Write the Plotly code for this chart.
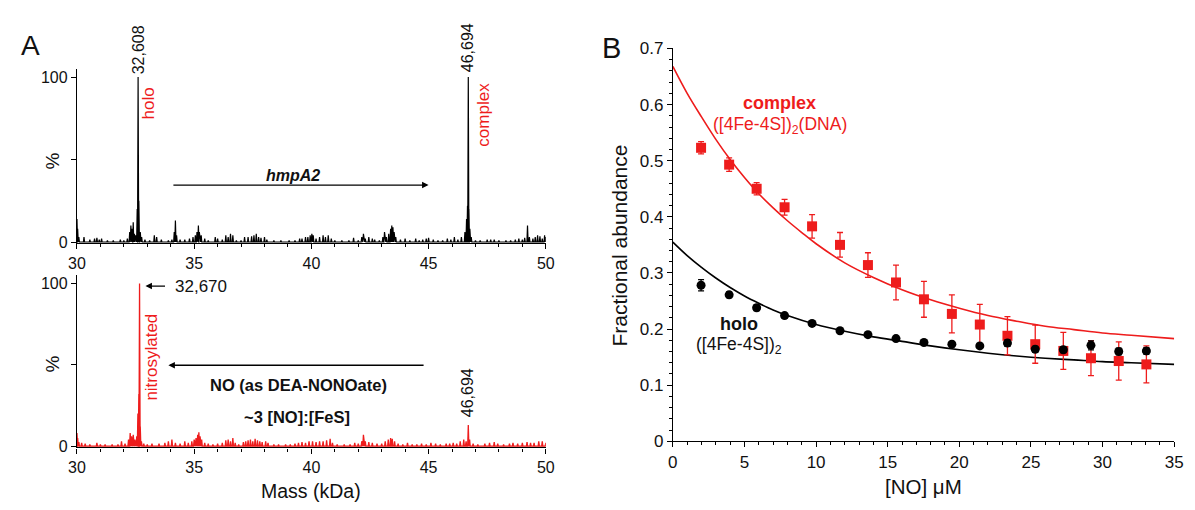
import plotly.graph_objects as go

# ---------------- Panel A data (stick spectra, mass in kDa, intensity %) ----------------
top_mass = [30.00, 30.03, 30.08, 30.30, 30.55, 30.75, 30.85, 30.95, 31.05, 31.30, 31.55, 31.85, 32.00,
            32.15, 32.25, 32.30, 32.36, 32.40, 32.45, 32.50, 32.57, 32.608, 32.64, 32.70, 32.76, 32.90,
            33.10, 33.30, 33.40, 33.60, 33.90, 34.05, 34.15, 34.20, 34.25, 34.40, 34.60, 34.80, 34.95,
            35.05, 35.12, 35.18, 35.22, 35.30, 35.45, 35.60, 35.90, 36.00, 36.20, 36.35, 36.45, 36.55,
            36.65, 36.80, 37.00, 37.15, 37.30, 37.45, 37.55, 37.65, 37.75, 37.85, 38.00, 38.10, 38.40,
            38.70, 39.05, 39.30, 39.50, 39.60, 39.75, 39.85, 39.95, 40.02, 40.08, 40.20, 40.35, 40.50,
            40.60, 40.72, 40.85, 41.00, 41.30, 41.60, 41.80, 42.00, 42.15, 42.22, 42.30, 42.45, 42.60,
            42.70, 42.90, 43.05, 43.12, 43.20, 43.30, 43.38, 43.43, 43.48, 43.53, 43.60, 43.80, 44.00,
            44.20, 44.45, 44.60, 44.75, 44.90, 45.00, 45.20, 45.40, 45.60, 45.80, 45.95, 46.10, 46.25,
            46.40, 46.55, 46.62, 46.66, 46.694, 46.72, 46.76, 46.82, 47.00, 47.20, 47.50, 47.65, 47.80,
            48.00, 48.30, 48.50, 48.70, 48.85, 49.00, 49.10, 49.22, 49.30, 49.45, 49.55, 49.65, 49.75,
            49.85, 49.95, 50.00]
top_int = [14, 8, 3, 3, 1.5, 2, 2.5, 1.5, 2, 1, 1, 1.5, 1,
           2, 6, 10, 8, 12, 5, 4, 20, 100, 25, 6, 3, 1.5,
           1, 4, 3, 1.5, 1, 1.5, 6, 13, 4, 1.5, 1.5, 2, 3,
           4, 6, 10, 6, 4, 2, 1, 3, 2, 1.5, 4, 3, 5,
           4, 1, 1, 3, 3, 3.5, 4, 5, 3, 2.5, 3, 1.5, 1,
           1, 1, 1, 2, 2, 3, 3, 4, 5, 4, 2, 3, 4,
           3, 4, 2, 1, 1, 1, 2.5, 1, 3, 5, 2, 3, 2,
           1.5, 1, 3, 6, 3, 5, 8, 10, 9, 6, 3, 1.5, 2,
           1, 2, 1, 1.5, 2, 2.5, 1.5, 1, 1, 2, 1.5, 3, 1.5,
           3, 6, 14, 22, 100, 20, 8, 3, 1, 1, 1.5, 1.5, 1.5,
           1, 1, 1, 1.5, 2, 1.5, 2.5, 10, 3, 2, 3, 4, 3.5,
           2, 4, 3]

bot_mass = [30.00, 30.03, 30.08, 30.20, 30.35, 30.55, 30.85, 31.00, 31.20, 31.50, 31.75, 31.90, 32.05,
            32.20, 32.27, 32.33, 32.40, 32.47, 32.55, 32.60, 32.64, 32.67, 32.70, 32.75, 32.85, 33.00,
            33.20, 33.50, 33.75, 33.90, 34.05, 34.20, 34.40, 34.60, 34.75, 34.90, 35.00, 35.08, 35.15,
            35.20, 35.25, 35.32, 35.45, 35.60, 35.80, 36.00, 36.20, 36.35, 36.45, 36.55, 36.65, 36.75,
            36.90, 37.10, 37.20, 37.30, 37.40, 37.50, 37.60, 37.70, 37.80, 37.90, 38.05, 38.15, 38.40,
            38.60, 38.90, 39.10, 39.30, 39.45, 39.60, 39.75, 39.90, 40.05, 40.20, 40.35, 40.50, 40.65,
            40.80, 40.90, 41.10, 41.40, 41.65, 41.85, 42.00, 42.15, 42.22, 42.30, 42.45, 42.60, 42.80,
            43.00, 43.15, 43.28, 43.38, 43.45, 43.55, 43.70, 43.90, 44.10, 44.30, 44.50, 44.70, 44.90,
            45.10, 45.30, 45.50, 45.75, 45.90, 46.05, 46.20, 46.35, 46.50, 46.60, 46.694, 46.75, 46.90,
            47.10, 47.40, 47.60, 47.80, 47.95, 48.20, 48.45, 48.60, 48.80, 49.00, 49.20, 49.35, 49.50,
            49.70, 49.85, 50.00]
bot_int = [8, 5, 2.5, 2, 1.5, 1, 2, 1, 1, 1, 1, 3, 1.5,
           4, 8, 6, 7, 4, 6, 20, 32, 100, 12, 3, 1.5, 1,
           1.5, 1.5, 2, 3, 4, 2, 1.5, 3, 2, 3, 4, 5, 7,
           8.5, 6, 4, 2, 1.5, 1, 1.5, 2, 3.5, 4, 3, 5, 2,
           1, 2.5, 3, 3.5, 4, 3, 4.5, 3.5, 3, 2.5, 3, 2, 1,
           1, 1, 1, 1.5, 2, 2.5, 2, 3, 3, 2.5, 3, 3, 3.5,
           4.5, 2, 1, 1, 1, 2, 1.5, 3, 7, 3, 2.5, 2, 1.5,
           1.5, 3, 4, 5, 4.5, 3, 1.5, 1, 2, 1, 1, 1.5, 1,
           2, 1.5, 1, 1.5, 1.5, 2, 1.5, 3, 4, 3, 13, 4, 1.5,
           1, 1.5, 2, 2.5, 1.5, 1, 1.5, 2, 1.5, 2, 2.5, 2, 2,
           3, 3, 2]

# ---------------- Panel B data ----------------
no_conc = [1.97, 3.93, 5.85, 7.80, 9.72, 11.67, 13.62, 15.58, 17.53, 19.48, 21.43, 23.36, 25.30,
           27.26, 29.19, 31.13, 33.06]
holo_frac = [0.278, 0.261, 0.238, 0.224, 0.210, 0.197, 0.190, 0.183, 0.176, 0.173, 0.170, 0.175,
             0.164, 0.163, 0.171, 0.160, 0.161]
holo_err = [0.010, 0.005, 0.005, 0.004, 0.004, 0.004, 0.004, 0.004, 0.004, 0.004, 0.004, 0.006,
            0.005, 0.005, 0.008, 0.006, 0.006]
complex_frac = [0.523, 0.493, 0.450, 0.417, 0.383, 0.350, 0.314, 0.283, 0.253, 0.227, 0.208, 0.188,
                0.173, 0.161, 0.148, 0.143, 0.137]
complex_err = [0.011, 0.012, 0.011, 0.014, 0.021, 0.022, 0.022, 0.031, 0.032, 0.034, 0.036, 0.034,
               0.034, 0.033, 0.031, 0.034, 0.033]

fit_complex_x = [0, 1, 2, 3, 4, 5, 6, 7, 8, 9, 10, 12, 14, 16, 18, 20, 22, 24, 26, 28, 30, 32, 35]
fit_complex_y = [0.668, 0.620, 0.578, 0.538, 0.502, 0.470, 0.441, 0.416, 0.393, 0.372, 0.352, 0.318,
                 0.292, 0.270, 0.252, 0.237, 0.224, 0.214, 0.205, 0.199, 0.193, 0.189, 0.183]
fit_holo_x = [0, 1, 2, 3, 4, 5, 6, 7, 8, 10, 12, 14, 16, 18, 20, 22, 24, 26, 28, 30, 32, 35]
fit_holo_y = [0.355, 0.331, 0.310, 0.291, 0.274, 0.259, 0.246, 0.234, 0.224, 0.208, 0.196, 0.186,
              0.178, 0.170, 0.163, 0.157, 0.152, 0.148, 0.145, 0.142, 0.140, 0.137]

A_xticks = [30, 35, 40, 45, 50]
A_yticks = [0, 50, 100]
A_yticklabels = ["0", " ", "100"]
B_xticks = [0, 5, 10, 15, 20, 25, 30, 35]
B_yticks = [0, 0.1, 0.2, 0.3, 0.4, 0.5, 0.6, 0.7]
B_yticklabels = ["0", "0.1", "0.2", "0.3", "0.4", "0.5", "0.6", "0.7"]

RED = "#ee1c1c"
FONT = "Liberation Sans, Arial, sans-serif"
W, H = 1195, 510


def sticks(masses, heights, hw=0.025):
    xs, ys = [], []
    for m, h in sorted(zip(masses, heights)):
        xs += [m - hw, m, m + hw]
        ys += [0, h, 0]
    return xs, ys


fig = go.Figure()

tx, ty = sticks(top_mass, top_int)
fig.add_trace(go.Scatter(x=tx, y=ty, mode="lines", line=dict(color="black", width=1.2),
                         xaxis="x", yaxis="y", hoverinfo="skip"))
bx, by = sticks(bot_mass, bot_int)
fig.add_trace(go.Scatter(x=bx, y=by, mode="lines", line=dict(color=RED, width=1.3),
                         fill="tozeroy", fillcolor=RED,
                         xaxis="x2", yaxis="y2", hoverinfo="skip"))

# Panel B
fig.add_trace(go.Scatter(x=fit_complex_x, y=fit_complex_y, mode="lines",
                         line=dict(color=RED, width=1.6, shape="spline"), xaxis="x3", yaxis="y3"))
fig.add_trace(go.Scatter(x=fit_holo_x, y=fit_holo_y, mode="lines",
                         line=dict(color="black", width=1.6, shape="spline"), xaxis="x3", yaxis="y3"))
fig.add_trace(go.Scatter(x=no_conc, y=complex_frac, mode="markers",
                         marker=dict(symbol="square", size=10, color=RED),
                         error_y=dict(type="data", array=complex_err, color=RED, thickness=1.3, width=3),
                         xaxis="x3", yaxis="y3", cliponaxis=False))
fig.add_trace(go.Scatter(x=no_conc, y=holo_frac, mode="markers",
                         marker=dict(symbol="circle", size=9, color="black"),
                         error_y=dict(type="data", array=holo_err, color="black", thickness=1.3, width=3),
                         xaxis="x3", yaxis="y3", cliponaxis=False))


def px_x(p):
    return p / W


def px_y(p):
    return 1 - p / H


def axis_common(size):
    return dict(showline=True, linecolor="black", linewidth=1.2, ticks="outside", tickcolor="black",
                ticklen=5, tickwidth=1.1, showgrid=False, zeroline=False,
                tickfont=dict(family=FONT, size=size, color="#111"))


minor_x = dict(dtick=1, ticks="outside", ticklen=3, tickcolor="black")

fig.update_layout(
    width=W, height=H, margin=dict(l=0, r=0, t=0, b=0),
    paper_bgcolor="white", plot_bgcolor="white", showlegend=False,
    font=dict(family=FONT, color="#111"),
    xaxis=dict(domain=[px_x(69), px_x(545)], range=[30, 50], anchor="y", tickvals=A_xticks,
               minor=minor_x, **axis_common(16)),
    yaxis=dict(domain=[px_y(243.4), px_y(62.1)], range=[-0.8, 105], anchor="x", tickvals=A_yticks,
               ticktext=A_yticklabels, **axis_common(16)),
    xaxis2=dict(domain=[px_x(69), px_x(545)], range=[30, 50], anchor="y2", tickvals=A_xticks,
                minor=minor_x, **axis_common(16)),
    yaxis2=dict(domain=[px_y(455.4), px_y(276.6)], range=[-0.8, 105], anchor="x2", tickvals=A_yticks,
                ticktext=A_yticklabels, **axis_common(16)),
    xaxis3=dict(domain=[px_x(674), px_x(1183)], range=[0, 35], anchor="y3", tickvals=B_xticks,
                minor=minor_x, **axis_common(17)),
    yaxis3=dict(domain=[px_y(449), px_y(41)], range=[0, 0.7], anchor="x3", tickvals=B_yticks,
                ticktext=B_yticklabels, minor=dict(dtick=0.02, ticks="outside", ticklen=3, tickcolor="black"),
                **axis_common(17)),
)

ann = []


def txt(text, x, y, xref, yref, size, color="#111", angle=0, bold=False, italic=False, **kw):
    if bold:
        text = "<b>" + text + "</b>"
    if italic:
        text = "<i>" + text + "</i>"
    ann.append(dict(text=text, x=x, y=y, xref=xref, yref=yref, showarrow=False, textangle=angle,
                    font=dict(family=FONT, size=size, color=color), xanchor="center", yanchor="middle", **kw))


# Panel letters
txt("A", px_x(22), px_y(38), "paper", "paper", 28)
txt("B", px_x(612), px_y(40), "paper", "paper", 29)

# Panel A top labels
txt("32,608", 32.64, px_y(42), "x", "paper", 16, angle=-90)
txt("holo", 33.03, 84, "x", "y", 17, color=RED, angle=-90)
txt("46,694", 46.67, px_y(40), "x", "paper", 16, angle=-90)
txt("complex", 47.35, 77, "x", "y", 17, color=RED, angle=-90)
txt("hmpA2", 39.2, 40.5, "x", "y", 16, bold=True, italic=True)
txt("%", px_x(44), px_y(158), "paper", "paper", 19, angle=-90)

# Panel A bottom labels
txt("nitrosylated", 33.2, 55, "x2", "y2", 17, color=RED, angle=-90)
txt("32,670", 35.3, 98.4, "x2", "y2", 17)
txt("NO (as DEA-NONOate)", 39.45, 37.5, "x2", "y2", 16.5, bold=True)
txt("~3 [NO]:[FeS]", 39.4, 18, "x2", "y2", 16.5, bold=True)
txt("46,694", 46.67, 33, "x2", "y2", 16, angle=-90)
txt("%", px_x(44), px_y(369), "paper", "paper", 19, angle=-90)
txt("Mass (kDa)", px_x(307), px_y(501), "paper", "paper", 19.5)

# Panel B labels
txt("complex", 7.46, 0.602, "x3", "y3", 18, color=RED, bold=True)
txt("([4Fe-4S])<sub>2</sub>(DNA)", 7.46, 0.563, "x3", "y3", 17.5, color=RED)
txt("holo", 4.61, 0.209, "x3", "y3", 18, bold=True)
txt("([4Fe-4S])<sub>2</sub>", 4.61, 0.170, "x3", "y3", 17.5)
txt("Fractional abundance", px_x(620), px_y(246), "paper", "paper", 21, angle=-90)
txt("[NO] μM", px_x(928), px_y(496), "paper", "paper", 20.5)

# Arrows
ann.append(dict(x=45.0, y=34.5, ax=34.05, ay=34.5, xref="x", yref="y", axref="x", ayref="y", text="",
                showarrow=True, arrowhead=2, arrowsize=1, arrowwidth=1.3, arrowcolor="black"))
ann.append(dict(x=32.92, y=98.4, ax=33.82, ay=98.4, xref="x2", yref="y2", axref="x2", ayref="y2", text="",
                showarrow=True, arrowhead=2, arrowsize=1, arrowwidth=1.3, arrowcolor="black"))
ann.append(dict(x=33.9, y=49.7, ax=44.85, ay=49.7, xref="x2", yref="y2", axref="x2", ayref="y2", text="",
                showarrow=True, arrowhead=2, arrowsize=1, arrowwidth=1.3, arrowcolor="black"))

fig.update_layout(annotations=ann)
fig.write_html("out.html", config={"displayModeBar": False},
               post_script="document.body.style.margin='0';document.body.style.overflow='hidden';")
